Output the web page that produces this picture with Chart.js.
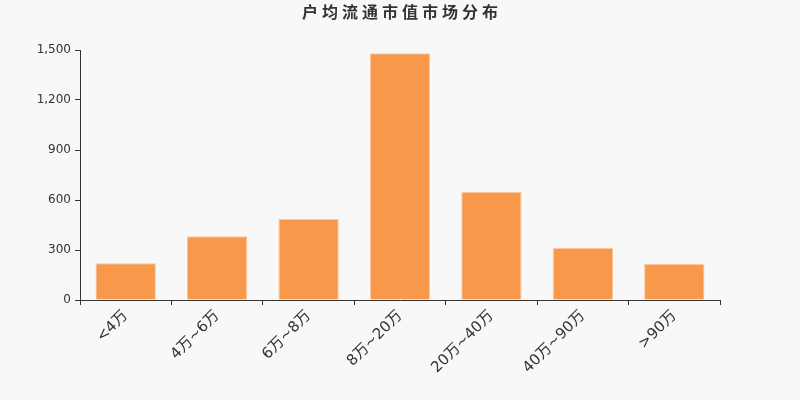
<!DOCTYPE html>
<html>
<head>
<meta charset="utf-8">
<script src="https://cdn.jsdelivr.net/npm/chart.js@4.4.0/dist/chart.umd.min.js"></script>
<style>
  html, body { margin: 0; padding: 0; background: #f8f8f8; }
  #box { width: 800px; height: 400px; }
</style>
</head>
<body>
<div id="box"><canvas id="myChart"></canvas></div>
<script>
// datos del grafico
const titulo = "户均流通市值市场分布"
const categorias = ["<4万", "4万~6万", "6万~8万", "8万~20万", "20万~40万", "40万~90万", ">90万"]
const valores = [220, 382, 486, 1480, 648, 312, 216]
const ticksY = [0, 300, 600, 900, 1200, 1500]

const fuente = "'DejaVu Sans', 'Noto Sans CJK SC', sans-serif"

// titulo dibujado a mano para tener el espaciado entre letras
const pluginTitulo = {
    id: "pluginTitulo",
    afterDraw(chart) {
        let c = chart.ctx
        c.save()
        c.fillStyle = "#333"
        c.font = "bold 16px " + fuente
        c.textBaseline = "middle"
        let esp = 4
        let ancho = 0
        for (let ch of titulo) ancho += c.measureText(ch).width + esp
        ancho -= esp
        let x = 400 - ancho / 2
        for (let ch of titulo) {
            c.fillText(ch, x, 14)
            x += c.measureText(ch).width + esp
        }
        c.restore()
    }
}

let ctx = document.getElementById("myChart").getContext("2d")

let myChart = new Chart(ctx, {
    type: "bar",
    data: {
        labels: categorias,
        datasets: [{
            data: valores,
            backgroundColor: "rgb(247,152,74)",
            borderColor: "rgba(252,200,160,1)",
            borderWidth: { top: 1, left: 1, right: 1, bottom: 0 },
            categoryPercentage: 1,
            barPercentage: 0.66
        }]
    },
    options: {
        responsive: true,
        maintainAspectRatio: false,
        animation: false,
        layout: { padding: { top: 50, left: 0, right: 80, bottom: 0 } },
        plugins: {
            legend: { display: false },
            title: { display: false },
            tooltip: { enabled: false }
        },
        scales: {
            x: {
                afterFit: (s) => { s.height = 100 },
                grid: { drawOnChartArea: false, tickLength: 5, color: "#333" },
                border: { color: "#333", width: 1 },
                ticks: {
                    color: "#333",
                    font: { family: fuente, size: 15 },
                    minRotation: 45,
                    maxRotation: 45,
                    padding: 2
                }
            },
            y: {
                min: 0,
                max: 1500,
                afterFit: (s) => { s.width = 80 },
                afterBuildTicks: (s) => { s.ticks = ticksY.map(v => ({ value: v })) },
                grid: { drawOnChartArea: false, tickLength: 5, color: "#333" },
                border: { color: "#333", width: 1 },
                ticks: {
                    color: "#333",
                    font: { family: fuente, size: 12 },
                    padding: 4
                }
            }
        }
    },
    plugins: [pluginTitulo]
})
</script>
</body>
</html>
